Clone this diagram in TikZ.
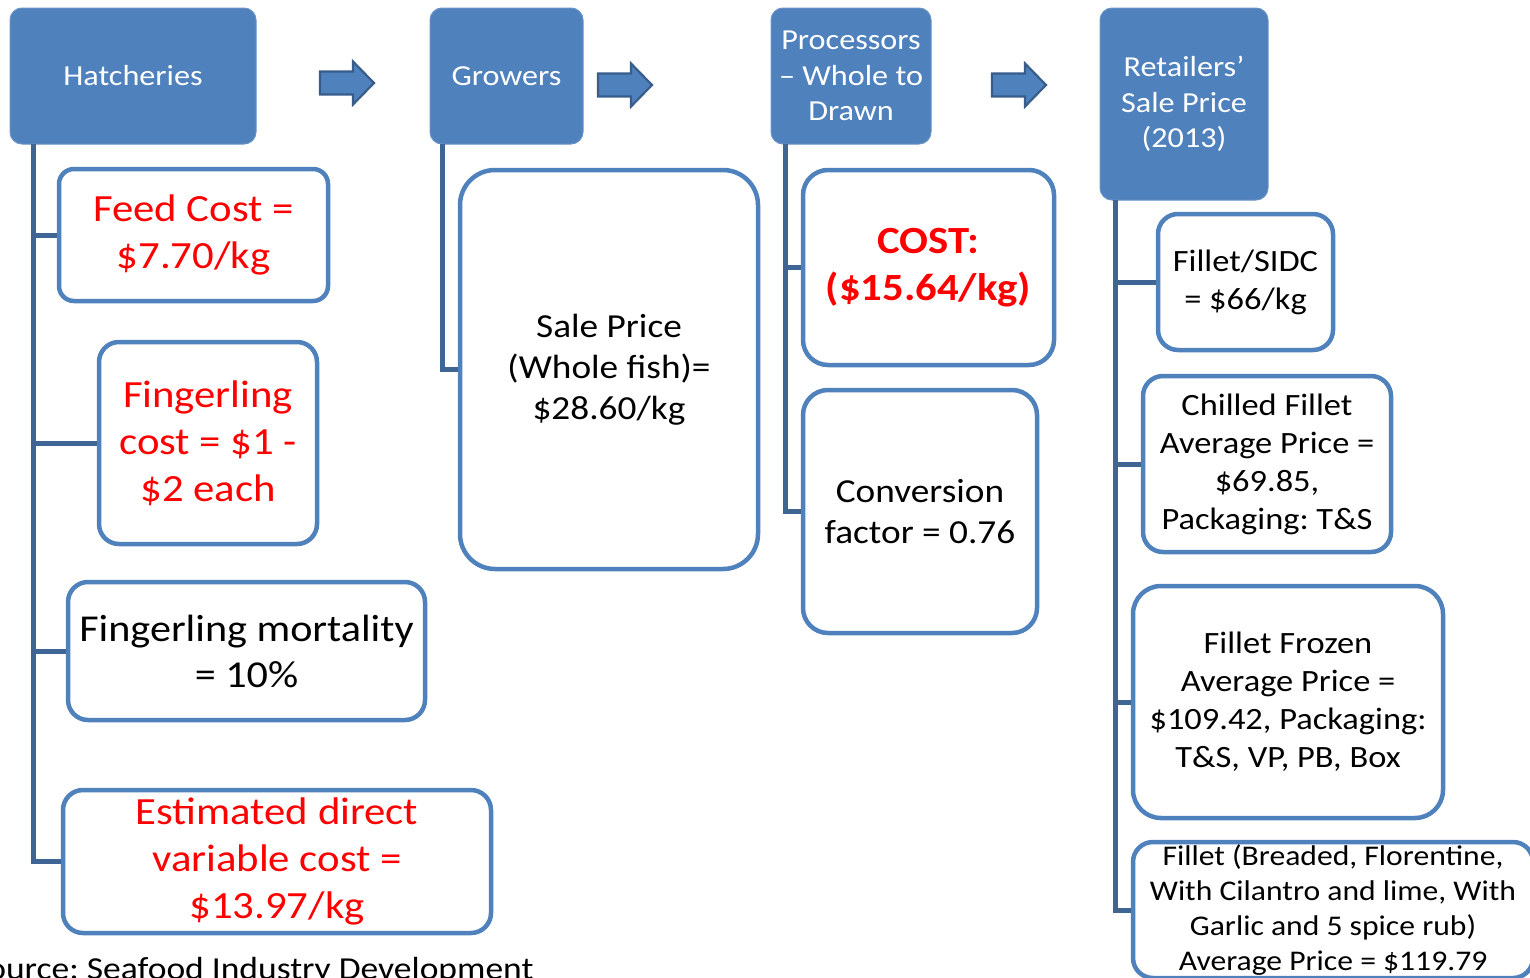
\documentclass[tikz,border=0pt]{standalone}
\usepackage{fontspec}
\setmainfont{Carlito}[FakeStretch=1.11]
\frenchspacing
\definecolor{hdrblue}{HTML}{4F81BD}
\definecolor{linkblue}{HTML}{3F6595}
\definecolor{arrowedge}{HTML}{385D8A}
\newcommand{\fsz}[2]{\fontsize{#1}{#2}\selectfont}

\begin{document}
\begin{tikzpicture}[x=1pt,y=-1pt,
    hdr/.style={fill=hdrblue, draw=hdrblue!85!white, line width=1, rounded corners=12, text=white, align=center, font=\fsz{29}{35.5}, inner sep=0},
    leaf/.style={draw=hdrblue, line width=4.5, fill=white, rounded corners=20, align=center, inner sep=0},
    trunk/.style={draw=linkblue, line width=5},
    redtxt/.style={text=red, font=\fsz{38.5}{47}},
    blacktxt/.style={text=black, font=\fsz{33.6}{41}},
    smalltxt/.style={text=black, font=\fsz{31}{38}},
    blockarrow/.style={fill=hdrblue, draw=arrowedge, line width=2.2, line join=miter},
  ]
    \clip (0,0) rectangle (1530,977);
    \useasboundingbox (0,0) rectangle (1530,977);

    % stage headers
    \node[hdr, minimum width=246, minimum height=136] (hatch) at (133,76) {Hatcheries};
    \node[hdr, minimum width=153, minimum height=136] (grow) at (506.5,76) {Growers};
    \node[hdr, minimum width=160, minimum height=136] (proc) at (851,76) {Processors\\– Whole to\\Drawn};
    \node[hdr, minimum width=168, minimum height=192] (retail) at (1184,104) {Retailers’\\Sale Price\\(2013)};

    % arrows between stages
    \foreach \ax/\ay in {320/83, 598/85, 992/85}
        \draw[blockarrow] (\ax,\ay-11.5) -- ++(33,0) -- ++(0,-10) -- (\ax+54,\ay)
            -- (\ax+33,\ay+21.5) -- ++(0,-10) -- (\ax,\ay+11.5) -- cycle;

    % hatcheries
    \node[leaf, redtxt, rounded corners=15, minimum width=269, minimum height=132] (feed) at (193.5,235) {Feed Cost =\\\$7.70/kg};
    \node[leaf, redtxt, minimum width=218, minimum height=202] (fling) at (208,443) {Fingerling\\cost = \$1 -\\\$2 each};
    \node[leaf, blacktxt, font=\fsz{38}{46}, minimum width=357, minimum height=138] (mort) at (246.5,651) {Fingerling mortality\\= 10\%};
    \node[leaf, redtxt, minimum width=428, minimum height=143] (estim) at (277,861.5) {Estimated direct\\variable cost =\\\$13.97/kg};

    % growers
    \node[leaf, blacktxt, rounded corners=35, minimum width=298, minimum height=399] (sale) at (609,369.5) {Sale Price\\(Whole fish)=\\\$28.60/kg};

    % processors
    \node[leaf, redtxt, font=\fsz{38.5}{47}\bfseries, rounded corners=25, minimum width=251, minimum height=195] (cost) at (928.5,267.5) {COST:\\(\$15.64/kg)};
    \node[leaf, blacktxt, rounded corners=25, minimum width=234, minimum height=243] (conv) at (920,511.5) {Conversion\\factor = 0.76};

    % retailers
    \node[leaf, smalltxt, minimum width=175, minimum height=136] (sidc) at (1245.5,282) {Fillet/SIDC\\= \$66/kg};
    \node[leaf, smalltxt, minimum width=248, minimum height=176] (chill) at (1267,464) {Chilled Fillet\\Average Price =\\\$69.85,\\Packaging: T\&S};
    \node[leaf, smalltxt, rounded corners=28, minimum width=310, minimum height=232] (frozen) at (1288,702) {Fillet Frozen\\Average Price =\\\$109.42, Packaging:\\T\&S, VP, PB, Box};
    \node[leaf, smalltxt, font=\fsz{28.5}{35}, minimum width=400, minimum height=136] (bread) at (1333,910) {Fillet (Breaded, Florentine,\\With Cilantro and lime, With\\Garlic and 5 spice rub)\\Average Price = \$119.79};

    % tree lines
    \coordinate (hatchroot) at (33,144);
    \coordinate (growroot) at (442,144);
    \coordinate (procroot) at (785,144);
    \coordinate (retailroot) at (1115,200);
    \foreach \leafname in {feed,fling,mort,estim}
        \draw[trunk] (hatchroot) |- (\leafname.west);
    \draw[trunk] (growroot) |- (sale.west);
    \foreach \leafname in {cost,conv}
        \draw[trunk] (procroot) |- (\leafname.west);
    \foreach \leafname in {sidc,chill,frozen,bread}
        \draw[trunk] (retailroot) |- (\leafname.west);

    \node[anchor=base east, font=\fsz{32}{38}] (source) at (537,979) {Source: Seafood Industry Development};
\end{tikzpicture}
\end{document}
